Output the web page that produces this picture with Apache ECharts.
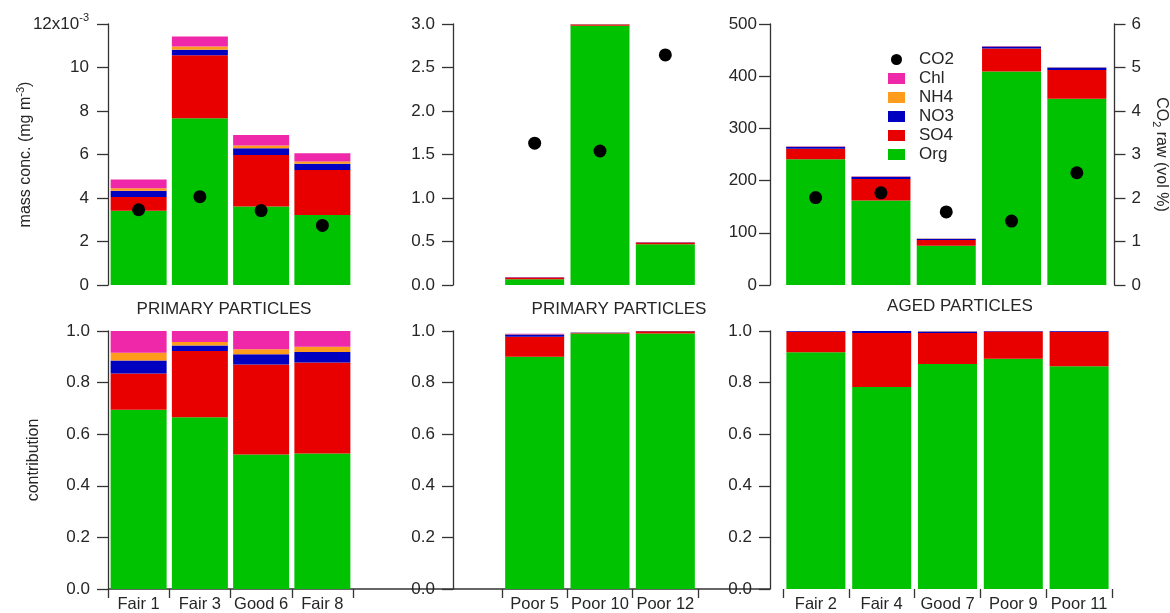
<!DOCTYPE html>
<html>
<head>
<meta charset="utf-8">
<script src="https://cdn.jsdelivr.net/npm/echarts@6/dist/echarts.min.js"></script>
<style>
html, body { margin: 0; background: #fff; }
#chart { width: 1170px; height: 613px; }
</style>
</head>
<body>
<div id="chart"></div>
<script>
// categories of the three panel columns
const catLeft = ['Fair 1', 'Fair 3', 'Good 6', 'Fair 8'];
const catMid = ['Poor 5', 'Poor 10', 'Poor 12'];
const catRight = ['Fair 2', 'Fair 4', 'Good 7', 'Poor 9', 'Poor 11'];

// top row: mass conc. (left panel in units of 1e-3)
const orgMassL = [3.41, 7.67, 3.61, 3.22];
const so4MassL = [0.64, 2.89, 2.37, 2.07];
const no3MassL = [0.28, 0.26, 0.31, 0.28];
const nh4MassL = [0.12, 0.14, 0.12, 0.11];
const chlMassL = [0.40, 0.47, 0.49, 0.38];

const orgMassM = [0.065, 2.98, 0.468];
const so4MassM = [0.020, 0.015, 0.020];
const no3MassM = [0.004, 0.003, 0.002];
const nh4MassM = [0.001, 0.001, 0.001];
const chlMassM = [0.001, 0.001, 0.000];

const orgMassR = [241, 162, 75, 409, 357];
const so4MassR = [20, 41, 11, 44, 55];
const no3MassR = [4, 4.5, 2.5, 4, 4.5];
const nh4MassR = [0.5, 0.5, 0.5, 0.5, 0.5];
const chlMassR = [0.3, 0.3, 0.3, 0.3, 0.3];

// CO2 raw (vol %)
const co2L = [1.73, 2.03, 1.71, 1.37];
const co2M = [3.26, 3.08, 5.29];
const co2R = [2.01, 2.12, 1.68, 1.47, 2.58];

// bottom row: contribution
const orgFracL = [0.695, 0.666, 0.521, 0.525];
const so4FracL = [0.140, 0.256, 0.349, 0.353];
const no3FracL = [0.051, 0.022, 0.040, 0.041];
const nh4FracL = [0.030, 0.013, 0.019, 0.020];
const chlFracL = [0.084, 0.043, 0.071, 0.061];

const orgFracM = [0.900, 0.990, 0.990];
const so4FracM = [0.078, 0.003, 0.009];
const no3FracM = [0.008, 0.001, 0.001];
const nh4FracM = [0.001, 0.000, 0.000];
const chlFracM = [0.002, 0.000, 0.000];

const orgFracR = [0.918, 0.783, 0.872, 0.892, 0.863];
const so4FracR = [0.079, 0.209, 0.120, 0.106, 0.134];
const no3FracR = [0.003, 0.008, 0.006, 0.002, 0.003];
const nh4FracR = [0.000, 0.000, 0.001, 0.000, 0.000];
const chlFracR = [0.000, 0.000, 0.000, 0.000, 0.000];

const species = ['Org', 'SO4', 'NO3', 'NH4', 'Chl'];
const colors = { Org: '#00c200', SO4: '#e80000', NO3: '#0000c0', NH4: '#ff9c1c', Chl: '#ee28a8', CO2: '#000' };

// panel geometry
const cols = [
  { left: 108, width: 245, yOff: 0, barW: 56, cats: catLeft },
  { left: 502, width: 196, yOff: 49, barW: 59, cats: catMid },
  { left: 783, width: 329, yOff: 13, barW: 59, cats: catRight }
];
const rowTop = { top: 24, height: 261 };
const rowBot = { top: 331, height: 258 };

const massData = [
  [orgMassL, so4MassL, no3MassL, nh4MassL, chlMassL],
  [orgMassM, so4MassM, no3MassM, nh4MassM, chlMassM],
  [orgMassR, so4MassR, no3MassR, nh4MassR, chlMassR]
];
const fracData = [
  [orgFracL, so4FracL, no3FracL, nh4FracL, chlFracL],
  [orgFracM, so4FracM, no3FracM, nh4FracM, chlFracM],
  [orgFracR, so4FracR, no3FracR, nh4FracR, chlFracR]
];
const co2Data = [co2L, co2M, co2R];

const font = 'Liberation Sans, Arial, sans-serif';
const ink = '#262626';
const lineC = '#333';

const grids = [], xAxes = [], yAxes = [], series = [];

function axisBase(extra) {
  return Object.assign({
    axisLine: { show: true, lineStyle: { color: lineC, width: 1.3 } },
    axisTick: { show: true, length: 11, lineStyle: { color: lineC, width: 1.3 } },
    axisLabel: { color: ink, fontSize: 17, fontFamily: font, margin: 18 },
    splitLine: { show: false }
  }, extra);
}

// top row
cols.forEach((c, i) => {
  grids.push({ left: c.left, top: rowTop.top, width: c.width, height: rowTop.height });
  xAxes.push({ type: 'category', gridIndex: i, data: c.cats, show: false });
});
// bottom row
cols.forEach((c, i) => {
  grids.push({ left: c.left, top: rowBot.top, width: c.width, height: rowBot.height });
  xAxes.push({
    type: 'category', gridIndex: 3 + i, data: c.cats,
    axisLine: { show: false },
    axisTick: { show: true, length: 9, lineStyle: { color: lineC, width: 1.3 } },
    axisLabel: { color: ink, fontSize: 16.5, fontFamily: font, margin: 7, interval: 0 }
  });
});

// y axes: 0..2 top mass, 3..5 CO2, 6..8 contribution
yAxes.push(axisBase({
  gridIndex: 0, min: 0, max: 12, interval: 2, offset: 0,
  name: 'mass conc. (mg m{s|-3})', nameLocation: 'middle', nameGap: 72, nameMoveOverlap: false,
  nameTextStyle: { color: ink, fontSize: 16, fontFamily: font, rich: { s: { fontSize: 11, fontFamily: font, color: ink, padding: [0, 0, 10, 0] } } },
  axisLabel: {
    color: ink, fontSize: 17, fontFamily: font, margin: 19,
    formatter: v => v === 12 ? '{n|12x10}{s|-3}' : String(v),
    rich: {
      n: { fontSize: 17, fontFamily: font, color: ink },
      s: { fontSize: 11, fontFamily: font, color: ink, padding: [0, 0, 12, 0] }
    }
  }
}));
yAxes.push(axisBase({
  gridIndex: 1, min: 0, max: 3, interval: 0.5, offset: cols[1].yOff,
  axisLabel: { color: ink, fontSize: 17, fontFamily: font, margin: 18, formatter: v => v.toFixed(1) }
}));
yAxes.push(axisBase({
  gridIndex: 2, min: 0, max: 500, interval: 100, offset: cols[2].yOff,
  axisLabel: { color: ink, fontSize: 17, fontFamily: font, margin: 13 }
}));
yAxes.push({ gridIndex: 0, min: 0, max: 6, show: false, splitLine: { show: false } });
yAxes.push({ gridIndex: 1, min: 0, max: 6, show: false, splitLine: { show: false } });
yAxes.push(axisBase({
  gridIndex: 2, min: 0, max: 6, interval: 1, position: 'right', offset: 5,
  axisLabel: { color: ink, fontSize: 17, fontFamily: font, margin: 17 },
  name: '{n|CO}{b|2}{n| raw (vol %)}', nameLocation: 'middle', nameGap: 36, nameRotate: -90,
  nameTextStyle: {
    rich: {
      n: { fontSize: 16, fontFamily: font, color: ink },
      b: { fontSize: 11, fontFamily: font, color: ink, padding: [10, 0, 0, 0] }
    }
  }
}));
cols.forEach((c, i) => {
  yAxes.push(axisBase({
    gridIndex: 3 + i, min: 0, max: 1, interval: 0.2, offset: c.yOff,
    name: i === 0 ? 'contribution' : '', nameLocation: 'middle', nameGap: 66,
    nameTextStyle: { color: ink, fontSize: 16, fontFamily: font },
    axisLabel: { color: ink, fontSize: 17, fontFamily: font, margin: 18, formatter: v => v.toFixed(1) }
  }));
});

// bars
cols.forEach((c, i) => {
  species.forEach((s, k) => {
    series.push({
      type: 'bar', name: s, xAxisIndex: i, yAxisIndex: i, stack: 'top' + i,
      barWidth: c.barW, data: massData[i][k], itemStyle: { color: colors[s] }
    });
    series.push({
      type: 'bar', name: s, xAxisIndex: 3 + i, yAxisIndex: 6 + i, stack: 'bot' + i,
      barWidth: c.barW, data: fracData[i][k], itemStyle: { color: colors[s] }
    });
  });
  series.push({
    type: 'scatter', name: 'CO2', xAxisIndex: i, yAxisIndex: 3 + i,
    data: co2Data[i], symbolSize: 13, itemStyle: { color: colors.CO2, opacity: 1 }, z: 5
  });
});

const titleStyle = { color: ink, fontSize: 17, fontWeight: 'normal', fontFamily: font };

const chart = echarts.init(document.getElementById('chart'));
chart.setOption({
  animation: false,
  backgroundColor: '#fff',
  title: [
    { text: 'PRIMARY PARTICLES', left: 219, top: 296, textAlign: 'center', textStyle: titleStyle },
    { text: 'PRIMARY PARTICLES', left: 614, top: 296, textAlign: 'center', textStyle: titleStyle },
    { text: 'AGED PARTICLES', left: 955, top: 293, textAlign: 'center', textStyle: titleStyle }
  ],
  legend: {
    orient: 'vertical', left: 883, top: 46, itemGap: 2,
    itemWidth: 17, itemHeight: 11,
    textStyle: { color: ink, fontSize: 17, fontFamily: font, padding: [0, 0, 0, 9] },
    data: [
      { name: 'CO2', icon: 'circle', itemStyle: { opacity: 1 } },
      { name: 'Chl', icon: 'rect' },
      { name: 'NH4', icon: 'rect' },
      { name: 'NO3', icon: 'rect' },
      { name: 'SO4', icon: 'rect' },
      { name: 'Org', icon: 'rect' }
    ]
  },
  grid: grids,
  xAxis: xAxes,
  yAxis: yAxes,
  series: series,
  // shared baseline under the lower-left and lower-middle panels
  graphic: [{
    type: 'line', silent: true,
    shape: {
      x1: cols[0].left, y1: rowBot.top + rowBot.height,
      x2: cols[2].left - cols[2].yOff, y2: rowBot.top + rowBot.height
    },
    style: { stroke: lineC, lineWidth: 1.3 }
  }]
});
</script>
</body>
</html>
